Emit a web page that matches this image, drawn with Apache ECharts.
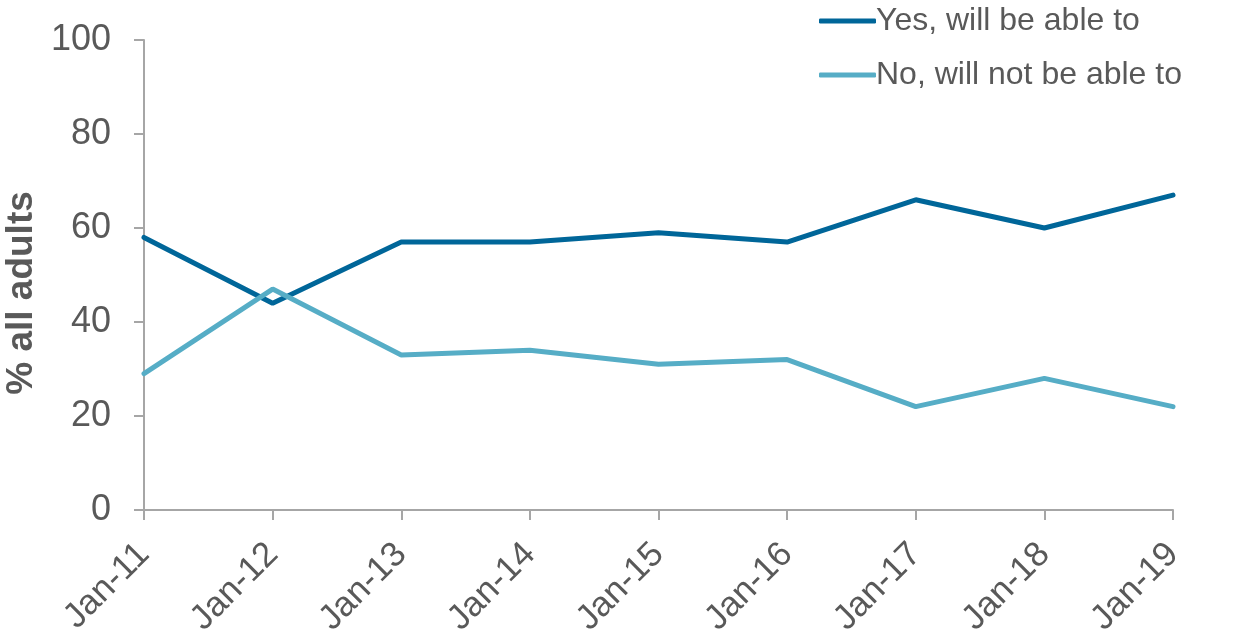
<!DOCTYPE html>
<html>
<head>
<meta charset="utf-8">
<script src="https://cdn.jsdelivr.net/npm/echarts@6/dist/echarts.min.js"></script>
<style>
html,body{margin:0;padding:0;background:#fff;}
#chart{width:1237px;height:636px;}
</style>
</head>
<body>
<div id="chart"></div>
<script>
const categories = ['Jan-11','Jan-12','Jan-13','Jan-14','Jan-15','Jan-16','Jan-17','Jan-18','Jan-19'];
const yesValues = [58, 44, 57, 57, 59, 57, 66, 60, 67];
const noValues = [29, 47, 33, 34, 31, 32, 22, 28, 22];
const seriesNames = ['Yes, will be able to', 'No, will not be able to'];
const yTicks = [0, 20, 40, 60, 80, 100];

const textColor = '#595959';
const axisColor = '#A6A6A6';
const font = 'Liberation Sans, Arial, sans-serif';

function withEndLabel(values) {
  return values.map((v, i) => i === values.length - 1 ? {
    value: v,
    label: { show: true, position: 'right', distance: 10, color: textColor, fontSize: 32, fontFamily: font, formatter: '{c}' }
  } : v);
}

const chart = echarts.init(document.getElementById('chart'), null, { renderer: 'canvas' });
chart.setOption({
  animation: false,
  backgroundColor: '#fff',
  grid: { left: 144, right: 64, top: 40, bottom: 126, containLabel: false, outerBoundsMode: 'none' },
  legend: {
    orient: 'vertical',
    left: 814,
    top: 0,
    itemWidth: 57,
    itemHeight: 5,
    itemGap: 22,
    textStyle: { color: textColor, fontSize: 32, fontFamily: font, padding: [0, 0, 0, -5] },
    data: seriesNames.map(n => ({ name: n, icon: 'roundRect' }))
  },
  xAxis: {
    type: 'category',
    data: categories,
    boundaryGap: false,
    axisLine: { lineStyle: { color: axisColor, width: 2 } },
    axisTick: { show: true, length: 10, lineStyle: { color: axisColor, width: 2 } },
    axisLabel: { rotate: 45, color: textColor, fontSize: 35, fontFamily: font, margin: 39 },
    splitLine: { show: false }
  },
  yAxis: {
    type: 'value',
    min: yTicks[0],
    max: yTicks[yTicks.length - 1],
    interval: 20,
    name: '% all adults',
    nameLocation: 'middle',
    nameGap: 95,
    nameTextStyle: { color: textColor, fontSize: 37, fontWeight: 'bold', fontFamily: font, padding: [0, 36, 0, 0] },
    axisLine: { show: true, lineStyle: { color: axisColor, width: 2 } },
    axisTick: { show: true, length: 10, lineStyle: { color: axisColor, width: 2 } },
    axisLabel: { color: textColor, fontSize: 36, fontFamily: font, margin: 33 },
    splitLine: { show: false }
  },
  series: [
    {
      name: seriesNames[0], type: 'line', data: withEndLabel(yesValues),
      symbol: 'none', lineStyle: { color: '#006699', width: 5, cap: 'round' }, itemStyle: { color: '#006699' }
    },
    {
      name: seriesNames[1], type: 'line', data: withEndLabel(noValues),
      symbol: 'none', lineStyle: { color: '#56ADC6', width: 5, cap: 'round' }, itemStyle: { color: '#56ADC6' }
    }
  ]
});
</script>
</body>
</html>
